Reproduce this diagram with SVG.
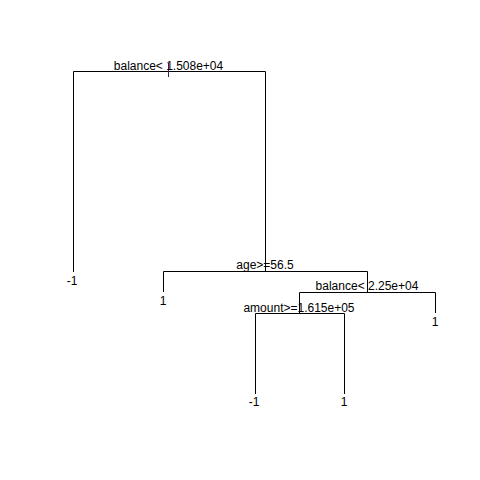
<svg xmlns="http://www.w3.org/2000/svg" width="480" height="480" viewBox="0 0 480 480">
<style>
.e{fill:none;stroke:#000;stroke-width:1}
text{font-family:"Liberation Sans",Arial,sans-serif;font-size:12px;fill:#000;text-anchor:middle}
</style>
<rect width="480" height="480" fill="#fff"/>
<g id="connectors">
<path class="e" d="M73.5 272V71.5H265.5V271"/>
<path class="e" d="M163.5 292V271.5H367.5V292"/>
<path class="e" d="M299.5 313V292.5H435.5V313"/>
<path class="e" d="M255.5 394V313.5H344.5V394"/>
<line x1="168.5" y1="63" x2="168.5" y2="77" stroke="#3a1a78" stroke-width="1"/>
</g>
<g id="n_root"><text x="168.5" y="70">balance&lt; 1.508e+04</text></g>
<g id="n_age"><text x="265" y="269">age&gt;=56.5</text></g>
<g id="n_bal2"><text x="367" y="290">balance&lt; 2.25e+04</text></g>
<g id="n_amount"><text x="299" y="311.5">amount&gt;=1.615e+05</text></g>
<g id="leaf1"><text x="72" y="285">-1</text></g>
<g id="leaf2"><text x="163" y="305">1</text></g>
<g id="leaf3"><text x="435" y="326">1</text></g>
<g id="leaf4"><text x="254" y="406">-1</text></g>
<g id="leaf5"><text x="344" y="406">1</text></g>
</svg>
